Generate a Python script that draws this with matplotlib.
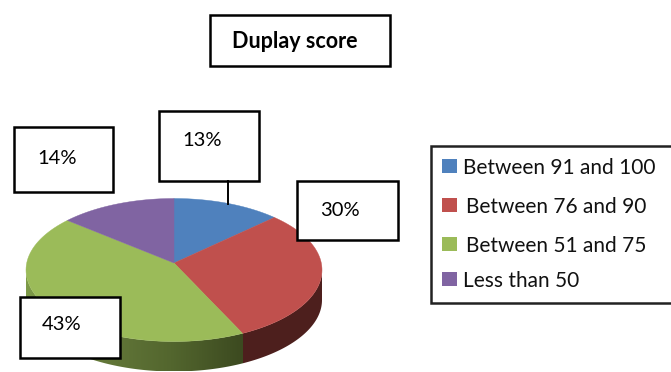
import matplotlib
matplotlib.use('Agg')
import matplotlib.pyplot as plt
import numpy as np
from matplotlib.colors import to_rgb, LinearSegmentedColormap
from matplotlib.patches import Polygon, Rectangle

categories = ['Between 91 and 100', 'Between 76 and 90', 'Between 51 and 75', 'Less than 50']
shares = [13, 30, 43, 14]
top_colors = ['#4f81bd', '#c0504d', '#9bbb59', '#8064a2']
share_labels = ['13%', '30%', '43%', '14%']

plt.rcParams['font.family'] = ['Lato', 'DejaVu Sans']

# axes in pixel units, y going down
fig = plt.figure(figsize=(6.71, 3.72), dpi=100)
ax = fig.add_axes([0, 0, 1, 1])
ax.set_xlim(0, 671)
ax.set_ylim(372, 0)
ax.axis('off')

# pie geometry: tilted disc, centre of the slices sits above the ellipse centre
cx, cy = 174, 270
rx, ry = 148, 71.5
apex_y = 263
depth = 30


def rim(theta):
    # where the ray from the apex at theta (clockwise from twelve) meets the ellipse
    t = np.radians(theta)
    dx, dy = np.sin(t), -np.cos(t)
    off = (apex_y - cy) / ry
    b = dy * off
    s = -b + np.sqrt(b ** 2 - (off ** 2 - 1))
    return cx + rx * dx * s, cy + ry * (off + dy * s)


bounds = np.cumsum([0] + shares) * 3.6

# side wall: front half of the ellipse pushed down, shaded left to right
phi = np.radians(np.linspace(90, 270, 200))
front_x = cx + rx * np.sin(phi)
front_y = cy - ry * np.cos(phi)
wall_pts = list(zip(front_x, front_y)) + list(zip(front_x[::-1], front_y[::-1] + depth))
wall = Polygon(wall_pts, closed=True, facecolor='none', edgecolor='none')
ax.add_patch(wall)

split_x = rim(bounds[2])[0]
green_wall = LinearSegmentedColormap.from_list('wall', ['#7d9a48', '#64793a', '#53662e', '#3c4a20'])
col_x = np.arange(cx - rx, cx + rx + 1)
shade = np.zeros((1, len(col_x), 3))
shade[0] = green_wall(np.clip((col_x - (cx - rx)) / (split_x - (cx - rx)), 0, 1))[:, :3]
shade[0, col_x >= split_x] = to_rgb('#4d1f1d')
img = ax.imshow(shade, extent=[cx - rx, cx + rx + 1, cy + ry + depth, cy - 5], aspect='auto', zorder=1)
img.set_clip_path(wall)
ax.set_xlim(0, 671)
ax.set_ylim(372, 0)

# top face of each slice
for i in range(len(shares)):
    th = np.linspace(bounds[i], bounds[i + 1], 80)
    xs, ys = rim(th)
    pts = [(cx, apex_y)] + list(zip(xs, ys))
    ax.add_patch(Polygon(pts, closed=True, facecolor=top_colors[i],
                         edgecolor=top_colors[i], linewidth=0.3, zorder=2))

# label boxes
boxes = {
    '13%': (159, 111, 100, 70, 202, 141),
    '30%': (297, 181, 101, 59, 340, 210),
    '43%': (20, 297, 100, 61, 62, 325),
    '14%': (14, 127, 99, 65, 57, 158),
}
for lab in share_labels:
    x, y, w, h, tx, ty = boxes[lab]
    ax.add_patch(Rectangle((x, y), w, h, facecolor='white', edgecolor='black', linewidth=1.8, zorder=3))
    ax.text(tx, ty, lab, fontsize=14.5, color='black', ha='center', va='center', zorder=4)
ax.plot([228, 228], [181, 204], color='black', linewidth=1.4, zorder=3)

# title box
ax.add_patch(Rectangle((210, 15), 180, 51, facecolor='white', edgecolor='black', linewidth=1.8, zorder=3))
ax.text(295, 42, 'Duplay score', fontsize=15.5, fontweight='bold', color='black',
        ha='center', va='center', zorder=4)

# legend
ax.add_patch(Rectangle((431, 146), 245, 157, facecolor='white', edgecolor='#222222', linewidth=1.8, zorder=3))
leg_y = [166, 205, 244, 279]
leg_x = [463, 466, 466, 463]
for name, col, y, x in zip(categories, top_colors, leg_y, leg_x):
    ax.add_patch(Rectangle((442, y - 7), 15, 14, facecolor=col, edgecolor='none', zorder=4))
    ax.text(x, y + 2, name, fontsize=15, color='#111111', ha='left', va='center', zorder=4)

fig.savefig('out.png', dpi=100)
